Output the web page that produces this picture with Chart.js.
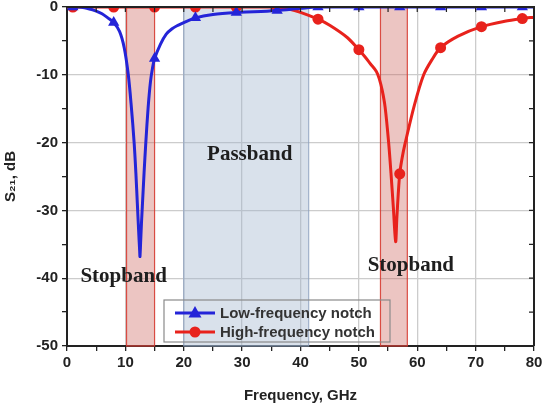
<!DOCTYPE html>
<html>
<head>
<meta charset="utf-8">
<script src="https://cdn.jsdelivr.net/npm/chart.js@4.4.1/dist/chart.umd.min.js"></script>
<style>
  html, body { margin: 0; padding: 0; background: #fff; }
  #wrap { width: 542px; height: 409px; }
</style>
</head>
<body>
<div id="wrap"><canvas id="s21-chart"></canvas></div>
<script>
// S21 readings, GHz / dB
const freqLow = [0, 1, 3, 5, 6, 7, 8, 9, 9.8, 10.5, 11, 11.5, 11.8, 12.05, 12.3, 12.45, 12.5, 12.6, 12.75, 12.9, 13.2, 13.5, 13.9, 14.3, 14.65, 15, 16, 17, 18, 19, 20, 22, 25, 29, 32, 36, 40, 43, 50, 57, 64, 71, 78, 80];
const lowNotch = [0, 0, -0.1, -0.6, -1.0, -1.6, -2.3, -3.6, -6, -10, -14.5, -20, -24.5, -29, -33.5, -36, -36.8, -35, -32, -29.5, -24.5, -20, -14.8, -11, -9, -7.6, -5.5, -4, -3.2, -2.7, -2.3, -1.6, -1.1, -0.8, -0.7, -0.5, -0.2, 0, 0, 0, 0, 0, 0, 0];

const freqHigh = [0, 1, 8, 15, 22, 29, 36, 38, 40, 43, 45, 48, 50, 51, 52, 53, 53.5, 54, 54.5, 55.1, 55.5, 55.9, 56.3, 56.5, 56.75, 57, 57.4, 57.9, 59.5, 61.1, 62.5, 64, 67, 71, 75, 78, 80];
const highNotch = [0, 0, 0, 0, 0, 0, 0, -0.3, -0.8, -1.8, -2.7, -4.5, -6.3, -7.3, -8.4, -9.5, -10.6, -12.3, -14.8, -20, -24.5, -29.5, -34.6, -31.2, -27.5, -24.6, -22.3, -20.2, -14.5, -10, -7.8, -6.0, -4.3, -2.9, -2.1, -1.7, -1.5];

const markerFreqs = [1, 8, 15, 22, 29, 36, 43, 50, 57, 64, 71, 78];

const stopbands = [[10.2, 15], [53.7, 58.3]];
const passband = [20, 41.4];
const bandLabels = [
  { text: 'Stopband', x: 9.7, y: -39.8 },
  { text: 'Passband', x: 31.3, y: -21.8 },
  { text: 'Stopband', x: 58.9, y: -38.1 }
];

const BLUE = '#2424d8';
const RED = '#e8221c';

function toPoints(xs, ys) {
  return xs.map((x, i) => ({ x: x, y: ys[i] }));
}

function markerRadius(r) {
  return ctx => markerFreqs.includes(ctx.raw && ctx.raw.x) ? r : 0;
}

const bandsPlugin = {
  id: 'bands',
  beforeDatasetsDraw(chart) {
    const { ctx, chartArea: a, scales: { x } } = chart;
    ctx.save();
    ctx.lineWidth = 1.2;
    // passband
    let x1 = x.getPixelForValue(passband[0]);
    let x2 = x.getPixelForValue(passband[1]);
    ctx.fillStyle = 'rgba(160, 180, 205, 0.4)';
    ctx.strokeStyle = 'rgba(140, 160, 190, 0.8)';
    ctx.fillRect(x1, a.top, x2 - x1, a.bottom - a.top);
    ctx.strokeRect(x1, a.top, x2 - x1, a.bottom - a.top);
    // stopbands
    stopbands.forEach(b => {
      x1 = x.getPixelForValue(b[0]);
      x2 = x.getPixelForValue(b[1]);
      ctx.fillStyle = 'rgba(200, 90, 80, 0.35)';
      ctx.strokeStyle = 'rgba(215, 60, 50, 0.9)';
      ctx.fillRect(x1, a.top, x2 - x1, a.bottom - a.top);
      ctx.strokeRect(x1, a.top, x2 - x1, a.bottom - a.top);
    });
    ctx.restore();
  },
  afterDatasetsDraw(chart) {
    const { ctx, chartArea: a, scales: { x, y } } = chart;
    ctx.save();
    // band labels
    ctx.font = 'bold 21px "Liberation Serif", "Times New Roman", serif';
    ctx.fillStyle = '#1e1e1e';
    ctx.textAlign = 'center';
    ctx.textBaseline = 'middle';
    bandLabels.forEach(l => ctx.fillText(l.text, x.getPixelForValue(l.x), y.getPixelForValue(l.y)));

    // legend inside plot
    const lx = a.left + 97, ly = a.bottom - 46, lw = 226, lh = 42;
    ctx.strokeStyle = '#8a8a8a';
    ctx.lineWidth = 1.2;
    ctx.strokeRect(lx, ly, lw, lh);
    ctx.font = 'bold 15px "Liberation Sans", Arial, sans-serif';
    ctx.textAlign = 'left';
    chart.data.datasets.forEach((ds, i) => {
      const cy = ly + 13 + i * 19;
      ctx.strokeStyle = ds.borderColor;
      ctx.lineWidth = 3;
      ctx.beginPath();
      ctx.moveTo(lx + 11, cy);
      ctx.lineTo(lx + 51, cy);
      ctx.stroke();
      ctx.fillStyle = ds.borderColor;
      const mx = lx + 31;
      ctx.beginPath();
      if (ds.pointStyle === 'triangle') {
        ctx.moveTo(mx, cy - 7);
        ctx.lineTo(mx + 6.5, cy + 4.5);
        ctx.lineTo(mx - 6.5, cy + 4.5);
        ctx.closePath();
      } else {
        ctx.arc(mx, cy, 5.5, 0, Math.PI * 2);
      }
      ctx.fill();
      ctx.fillStyle = '#333';
      ctx.fillText(ds.label, lx + 56, cy + 1);
    });
    ctx.restore();
  },
  afterDraw(chart) {
    const { ctx, chartArea: a, scales: { x, y } } = chart;
    ctx.save();
    ctx.strokeStyle = '#222';
    ctx.lineWidth = 2;
    ctx.beginPath();
    ctx.moveTo(a.left, a.top);
    ctx.lineTo(a.right, a.top);
    ctx.lineTo(a.right, a.bottom);
    ctx.stroke();
    ctx.lineWidth = 1.2;
    ctx.beginPath();
    for (let v = 5; v < 80; v += 5) {
      const px = x.getPixelForValue(v);
      ctx.moveTo(px, a.top);
      ctx.lineTo(px, a.top + 5);
    }
    for (let v = -45; v < 0; v += 5) {
      const py = y.getPixelForValue(v);
      ctx.moveTo(a.right, py);
      ctx.lineTo(a.right - 5, py);
    }
    ctx.stroke();
    ctx.restore();
  }
};

const chartElement = document.getElementById('s21-chart').getContext('2d');
const s21Chart = new Chart(chartElement, {
  type: 'line',
  data: {
    datasets: [{
      label: 'Low-frequency notch',
      data: toPoints(freqLow, lowNotch),
      borderColor: BLUE,
      backgroundColor: BLUE,
      borderWidth: 3,
      pointStyle: 'triangle',
      pointRadius: markerRadius(6.5),
      pointBorderWidth: 0,
      tension: 0.3,
      clip: 0
    }, {
      label: 'High-frequency notch',
      data: toPoints(freqHigh, highNotch),
      borderColor: RED,
      backgroundColor: RED,
      borderWidth: 3,
      pointStyle: 'circle',
      pointRadius: markerRadius(5.5),
      pointBorderWidth: 0,
      tension: 0.3,
      clip: 0
    }]
  },
  options: {
    responsive: true,
    maintainAspectRatio: false,
    animation: false,
    layout: { padding: { top: 7, right: 8 } },
    plugins: {
      legend: { display: false },
      tooltip: { enabled: false }
    },
    scales: {
      x: {
        type: 'linear',
        min: 0,
        max: 80,
        afterFit: s => { s.height = 63; s.paddingLeft = 0; s.paddingRight = 0; },
        border: { color: '#222', width: 2 },
        grid: {
          color: c => c.tick.value % 10 === 0 ? '#cccccc' : 'rgba(0,0,0,0)',
          tickColor: '#222',
          tickLength: 5,
          lineWidth: 1.3
        },
        ticks: {
          stepSize: 5,
          autoSkip: false,
          maxRotation: 0,
          padding: 3,
          color: '#222',
          font: { family: '"Liberation Sans", Arial, sans-serif', size: 15, weight: 'bold' },
          callback: v => v % 10 === 0 ? v : ''
        },
        title: {
          display: true,
          text: 'Frequency, GHz',
          color: '#222',
          padding: { top: 6 },
          font: { family: '"Liberation Sans", Arial, sans-serif', size: 15, weight: 'bold' }
        }
      },
      y: {
        min: -50,
        max: 0,
        afterFit: s => { s.width = 67; s.paddingTop = 0; s.paddingBottom = 0; },
        border: { color: '#222', width: 2 },
        grid: {
          color: c => c.tick.value % 10 === 0 ? '#cccccc' : 'rgba(0,0,0,0)',
          tickColor: '#222',
          tickLength: 5,
          lineWidth: 1.3
        },
        ticks: {
          stepSize: 5,
          autoSkip: false,
          padding: 4,
          color: '#222',
          font: { family: '"Liberation Sans", Arial, sans-serif', size: 15, weight: 'bold' },
          callback: v => v % 10 === 0 ? v : ''
        },
        title: {
          display: true,
          text: 'S\u2082\u2081, dB',
          color: '#222',
          padding: { top: 2, bottom: 0 },
          font: { family: '"Liberation Sans", Arial, sans-serif', size: 15, weight: 'bold' }
        }
      }
    }
  },
  plugins: [bandsPlugin]
});
</script>
</body>
</html>
